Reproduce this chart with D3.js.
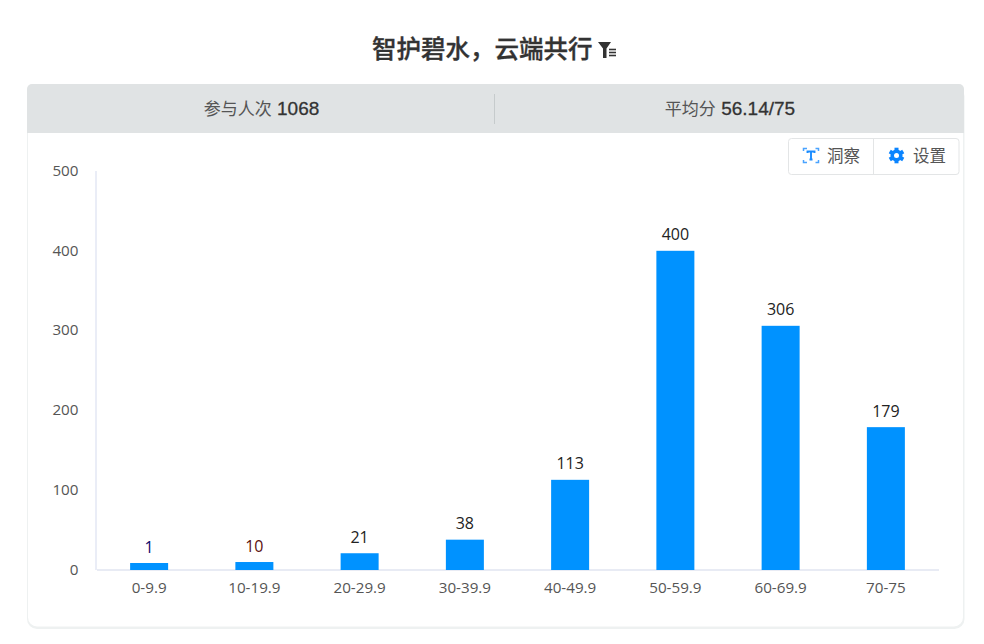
<!DOCTYPE html>
<html>
<head>
<meta charset="utf-8">
<script src="https://cdn.jsdelivr.net/npm/d3@7"></script>
<style>
html, body { margin: 0; padding: 0; background: #fff; overflow: hidden; }
text { font-family: "Open Sans", "Noto Sans CJK SC", sans-serif; }
.cjk { font-family: "Noto Sans CJK SC", sans-serif; }
.latin { font-family: "Liberation Sans", "Noto Sans CJK SC", sans-serif; }
</style>
</head>
<body>
<svg id="chart" width="984" height="644"></svg>
<script>
const categories = ['0-9.9', '10-19.9', '20-29.9', '30-39.9', '40-49.9', '50-59.9', '60-69.9', '70-75'];
const counts = [1, 10, 21, 38, 113, 400, 306, 179];
const labelColors = ['#0b0b6b', '#5a1010', '#222', '#222', '#222', '#222', '#222', '#222'];
const yTicks = [0, 100, 200, 300, 400, 500];

const title = '智护碧水，云端共行';
const statLabels = ['参与人次', '平均分'];
const statValues = ['1068', '56.14/75'];

const svg = d3.select('#chart');

// card, the lower rect gives the soft bottom edge
svg.append('rect')
    .attr('x', 27).attr('y', 86).attr('width', 937.5).attr('height', 543)
    .attr('rx', 10).attr('fill', '#eef1f1');
svg.append('rect')
    .attr('x', 28).attr('y', 85).attr('width', 935).attr('height', 541.5)
    .attr('rx', 9).attr('fill', '#fff');

// grey header, rounded on top only
svg.append('path')
    .attr('d', 'M27,133V89a5,5 0 0 1 5,-5H959a5,5 0 0 1 5,5V133Z')
    .attr('fill', '#e0e3e4');
svg.append('line')
    .attr('x1', 494.5).attr('x2', 494.5).attr('y1', 94).attr('y2', 124)
    .attr('stroke', '#c6cbcc');

// title
svg.append('text')
    .attr('class', 'cjk')
    .attr('x', 372).attr('y', 57.5)
    .attr('font-size', 24.5).attr('font-weight', 500).attr('fill', '#333')
    .attr('stroke', '#333').attr('stroke-width', 0.35)
    .text(title);

// funnel icon next to the title
svg.append('path')
    .attr('d', 'M598,42H611L606.5,48.5V58H603V48.5Z')
    .attr('fill', '#333');
svg.append('g').selectAll('line')
    .data([49.5, 52.5, 55.5])
    .join('line')
    .attr('x1', 609).attr('x2', 616)
    .attr('y1', (d) => d).attr('y2', (d) => d)
    .attr('stroke', '#333').attr('stroke-width', 1.6);

// header stats
const statX = [261.5, 730];
statLabels.forEach((label, i) => {
    const t = svg.append('text')
        .attr('x', statX[i]).attr('y', 115)
        .attr('text-anchor', 'middle');
    t.append('tspan').attr('class', 'cjk')
        .attr('font-size', 17).attr('fill', '#555').text(label + ' ');
    t.append('tspan').attr('class', 'latin')
        .attr('dx', 1.5)
        .attr('font-size', 19).attr('font-weight', 400)
        .attr('fill', '#333').attr('stroke', '#333').attr('stroke-width', 0.3)
        .text(statValues[i]);
});

// buttons
svg.append('rect')
    .attr('x', 788.5).attr('y', 138.5).attr('width', 170.5).attr('height', 36)
    .attr('rx', 3).attr('fill', '#fff').attr('stroke', '#e3e5e6');
svg.append('line')
    .attr('x1', 873.5).attr('x2', 873.5).attr('y1', 138).attr('y2', 175)
    .attr('stroke', '#e3e5e6');

// insight icon: corner brackets with a T
svg.append('path')
    .attr('d', 'M803.5,151V148.5H807M815.5,148.5H818.5V151M818.5,160V162.5H815.5M807,162.5H803.5V160')
    .attr('fill', 'none').attr('stroke', '#4aa3ff').attr('stroke-width', 1.5);
svg.append('path')
    .attr('d', 'M807.5,153V151.5H814.5V153M811,151.5V159.5M809.5,159.5H812.5')
    .attr('fill', 'none').attr('stroke', '#1a8cff').attr('stroke-width', 1.9);
svg.append('text').attr('class', 'cjk')
    .attr('x', 827).attr('y', 161.5)
    .attr('font-size', 16.5).attr('fill', '#555').text('洞察');

// gear icon
const gear = svg.append('g').attr('transform', 'translate(896.5,155.5)');
gear.append('g').selectAll('rect')
    .data(d3.range(3))
    .join('rect')
    .attr('x', -2).attr('y', -7.8).attr('width', 4).attr('height', 15.6)
    .attr('transform', (d) => `rotate(${d * 60})`)
    .attr('fill', '#0a84ff');
gear.append('circle').attr('r', 6).attr('fill', '#0a84ff');
gear.append('circle').attr('r', 2.5).attr('fill', '#fff');
svg.append('text').attr('class', 'cjk')
    .attr('x', 913).attr('y', 161.5)
    .attr('font-size', 16.5).attr('fill', '#555').text('设置');

// scales
const x = d3.scaleBand().domain(categories).range([96.5, 938.5]);
const y = d3.scaleLinear().domain([0, 500]).range([570, 171]);
const barWidth = 38;
const minBarHeight = 7; // small values keep a visible stub, like the reference

const barHeight = (d) => Math.max(y(0) - y(d), minBarHeight);

// axes
const xAxis = d3.axisBottom(x).tickSize(0).tickPadding(13);
const yAxis = d3.axisLeft(y).tickValues(yTicks).tickSize(0).tickPadding(17);

const gx = svg.append('g').attr('transform', 'translate(0,569.5)').call(xAxis);
gx.select('.domain').attr('stroke', '#e0e4f0').attr('stroke-width', 1.5);
gx.selectAll('text').attr('font-size', 15.2).attr('fill', '#555');

const gy = svg.append('g').attr('transform', 'translate(95.5,-0.5)').call(yAxis);
gy.select('.domain').attr('stroke', '#d5dbee').attr('stroke-width', 1);
gy.selectAll('text').attr('font-size', 15.2).attr('fill', '#555');

// bars
svg.append('g').selectAll('rect')
    .data(counts)
    .join('rect')
    .attr('x', (d, i) => x(categories[i]) + (x.bandwidth() - barWidth) / 2)
    .attr('width', barWidth)
    .attr('y', (d) => y(0) - barHeight(d))
    .attr('height', barHeight)
    .attr('fill', '#0092ff');

// value labels
svg.append('g').selectAll('text')
    .data(counts)
    .join('text')
    .attr('x', (d, i) => x(categories[i]) + x.bandwidth() / 2)
    .attr('y', (d) => y(0) - barHeight(d) - 10.5)
    .attr('text-anchor', 'middle')
    .attr('font-size', 16)
    .attr('fill', (d, i) => labelColors[i])
    .text((d) => d);
</script>
</body>
</html>
